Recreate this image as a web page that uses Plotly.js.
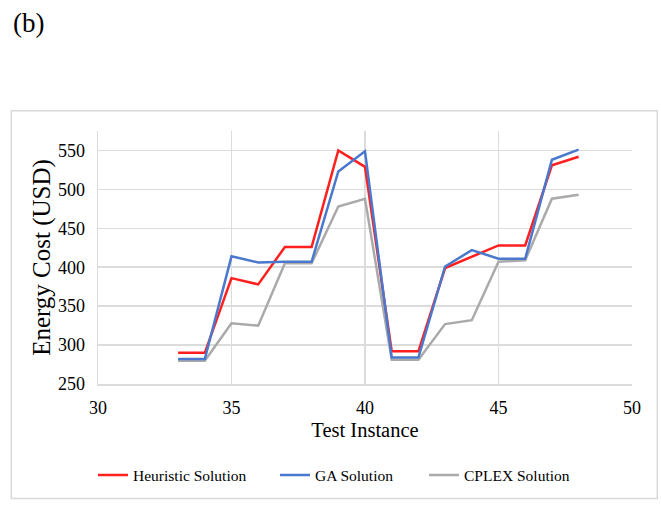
<!DOCTYPE html>
<html>
<head>
<meta charset="utf-8">
<script src="https://cdn.plot.ly/plotly-3.0.1.min.js"></script>
<style>
  html, body { margin: 0; padding: 0; background: #ffffff; }
  #chart { width: 661px; height: 508px; }
</style>
</head>
<body>
<div id="chart"></div>
<script>
// Data
const instances = [33, 34, 35, 36, 37, 38, 39, 40, 41, 42, 43, 44, 45, 46, 47, 48];
const heuristic = [290, 290, 386, 378, 426, 426, 550, 529, 292, 292, 399, 414, 428, 428, 531, 542];
const gaSolution = [282, 282, 414, 406, 407, 407, 523, 549, 284, 284, 401, 422, 411, 411, 538, 551];
const cplex = [280, 280, 328, 325, 405, 405, 478, 488, 281, 281, 327, 332, 407, 409, 488, 493];
const seriesNames = ['Heuristic Solution', 'GA Solution', 'CPLEX Solution'];
const xTickVals = [30, 35, 40, 45, 50];
const yTickVals = [250, 300, 350, 400, 450, 500, 550];

const serif = '"Liberation Serif", "Times New Roman", serif';

const traces = [
  {
    x: instances, y: cplex, name: seriesNames[2], mode: 'lines',
    line: { color: '#aaaaaa', width: 2.5 }, legendrank: 3
  },
  {
    x: instances, y: heuristic, name: seriesNames[0], mode: 'lines',
    line: { color: '#ff1f1f', width: 2.5 }, legendrank: 1, legendwidth: 137
  },
  {
    x: instances, y: gaSolution, name: seriesNames[1], mode: 'lines',
    line: { color: '#4a78cc', width: 2.5 }, legendrank: 2, legendwidth: 104
  }
];

const layout = {
  width: 661, height: 508,
  margin: { l: 97.7, r: 29.3, t: 131.3, b: 123.7 },
  paper_bgcolor: '#ffffff', plot_bgcolor: '#ffffff',
  font: { family: serif, color: '#000000', size: 18 },
  showlegend: true,
  legend: {
    orientation: 'h', xref: 'container', yref: 'container',
    x: 93 / 661, xanchor: 'left', y: (508 - 475.5) / 508, yanchor: 'middle',
    font: { family: serif, size: 15.5, color: '#000000' },
    bgcolor: 'rgba(0,0,0,0)', borderwidth: 0
  },
  xaxis: {
    range: [30, 50], tickvals: xTickVals, ticktext: xTickVals.map(String),
    showgrid: true, gridcolor: '#dcdcdc', gridwidth: 1.5,
    showline: true, linecolor: '#dcdcdc', linewidth: 1.5,
    zeroline: false, ticks: '', ticklabelstandoff: 7,
    tickfont: { family: serif, size: 18, color: '#000000' },
    title: { text: 'Test Instance', font: { family: serif, size: 20.5, color: '#000000' }, standoff: 5 },
    fixedrange: true
  },
  yaxis: {
    range: [250, 575], tickvals: yTickVals, ticktext: yTickVals.map(String),
    showgrid: true, gridcolor: '#dcdcdc', gridwidth: 1.5,
    showline: true, linecolor: '#dcdcdc', linewidth: 1.5,
    zeroline: false, ticks: '', ticklabelstandoff: 8,
    tickfont: { family: serif, size: 18, color: '#000000' },
    title: { text: 'Energy Cost (USD)', font: { family: serif, size: 25, color: '#000000' }, standoff: 0 },
    fixedrange: true
  },
  shapes: [
    {
      type: 'rect', xref: 'paper', yref: 'paper',
      x0: (11 - 97.7) / 534, x1: (657 - 97.7) / 534,
      y0: (384.3 - 498.7) / 253, y1: (384.3 - 111) / 253,
      line: { color: '#d9d9d9', width: 1.5 }, fillcolor: 'rgba(0,0,0,0)', layer: 'below'
    }
  ],
  annotations: [
    {
      text: '(b)', xref: 'paper', yref: 'paper',
      x: (11 - 97.7) / 534, xanchor: 'left',
      y: (384.3 - 23) / 253, yanchor: 'middle',
      showarrow: false, font: { family: serif, size: 27, color: '#000000' }
    }
  ]
};

Plotly.newPlot('chart', traces, layout, { displayModeBar: false, staticPlot: true });
</script>
</body>
</html>
